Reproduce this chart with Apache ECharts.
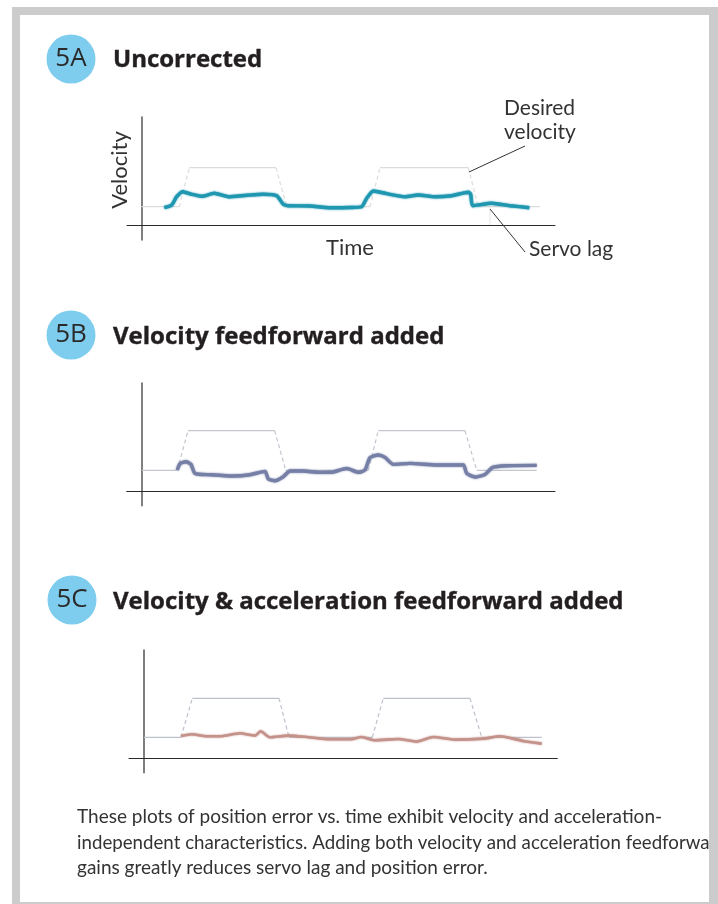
<!DOCTYPE html>
<html>
<head>
<meta charset="utf-8">
<style>
  html, body { margin: 0; padding: 0; background: #fff; }
  #chart { width: 718px; height: 904px; }
</style>
<script src="https://cdn.jsdelivr.net/npm/echarts@6/dist/echarts.min.js"></script>
</head>
<body>
<div id="chart"></div>
<script>
// [time, velocity]
const desiredA = [[0, 18.3], [37.8, 18.3], [47.8, 57.3], [134.5, 57.3], [145.2, 18.3], [228.5, 18.3], [238.5, 57.3], [326.8, 57.3], [336.8, 18.3], [398.5, 18.3]];
const servoA = [[22.8, 17.3], [30.2, 20], [35.2, 28.3], [41.2, 33.3], [50.2, 30.7], [60.2, 28.7], [72.8, 31.7], [86.8, 28.3], [105.2, 29.7], [121.8, 30.7], [135.2, 29.3], [141.8, 20.7], [146.8, 19.3], [168.5, 19], [188.5, 17.3], [208.5, 17.5], [220.2, 18.3], [225.2, 26.7], [231.8, 34], [245.2, 31.3], [263.5, 28.3], [276.8, 30], [293.5, 28.3], [310.2, 29.3], [326.8, 32.7], [329.2, 30.7], [331.2, 19.3], [350.2, 21.7], [368.5, 19.3], [387.8, 17.3]];
const desiredB = [[0, 21.3], [35.3, 21.3], [46, 61], [132.7, 61], [143.7, 21.3], [226.3, 21.3], [236.3, 61], [323, 61], [334.7, 21.3], [394.7, 21.3]];
const servoB = [[35.3, 21.7], [38, 28], [44, 30], [49, 27.3], [53, 18.3], [68, 17], [91.3, 15.7], [108, 17], [123, 20.3], [126.3, 12.7], [133, 11], [141.3, 15], [148, 20.7], [161.3, 20.7], [178, 19.3], [191.3, 19.7], [204.7, 23.3], [216.3, 19.3], [223, 21.7], [228, 34], [236.3, 36.7], [243, 34.3], [251.3, 27.3], [268, 28.3], [294.7, 26.7], [321.3, 26.7], [324.7, 18.3], [333, 14.7], [343, 17.3], [350.7, 24.3], [364.7, 26], [394.7, 26.3]];
const desiredC = [[0, 21], [37, 21], [48.3, 60], [135, 60], [145, 21], [228.3, 21], [239.3, 60], [326, 60], [337.7, 21], [397.7, 21]];
const servoC = [[37, 22.3], [47.7, 24], [62.7, 22], [79.3, 22.3], [96, 25], [111, 22.7], [116.7, 27], [126, 21], [144.3, 22.7], [162.7, 21.3], [186, 19], [206, 19], [217.7, 21.3], [231, 18], [254.3, 19.3], [272.7, 16.7], [289.3, 21.3], [311, 18.7], [339.3, 19.7], [356, 22], [379.3, 17.3], [397.7, 14.7]];

const badges = ['5A', '5B', '5C'];
const headings = ['Uncorrected', 'Velocity feedforward added', 'Velocity & acceleration feedforward added'];
const caption = [
  'These plots of position error vs. time exhibit velocity and acceleration-',
  'independent characteristics. Adding both velocity and acceleration feedforwa',
  'gains greatly reduces servo lag and position error.'
];
const captionSizes = [19, 18.7, 19];

const bodyFont = 'Lato';
const headFont = '"Open Sans"';

const panels = [
  { desired: desiredA, servo: servoA, color: '#1f97b0', flat: '#dcdcdc', lineW: 3.4, left: 127, top: 117, width: 428, height: 123, xMin: -14.5, xMax: 413.5, yMin: -15, yMax: 108, badgeY: 59, badgeX: 71, headY: 60 },
  { desired: desiredB, servo: servoB, color: '#767fa6', flat: '#c4c6d0', lineW: 3.4, left: 126.7, top: 383, width: 428.3, height: 122.7, xMin: -15.3, xMax: 413, yMin: -14, yMax: 108.7, badgeY: 335, badgeX: 71, headY: 337 },
  { desired: desiredC, servo: servoC, color: '#c4928a', flat: '#bcc1cc', lineW: 2.6, left: 129, top: 650, width: 428.3, height: 122.7, xMin: -15, xMax: 413.3, yMin: -14.4, yMax: 108.3, badgeY: 600, badgeX: 72, headY: 602 }
];

// flats solid, ramps dashed: split the trace into two series with gaps
function splitDesired(points) {
  const flats = [];
  const ramps = [];
  for (let i = 1; i < points.length; i++) {
    const target = points[i][1] === points[i - 1][1] ? flats : ramps;
    target.push(points[i - 1], points[i], [points[i][0], null]);
  }
  return { flats, ramps };
}

const grid = [];
const xAxis = [];
const yAxis = [];
const series = [];

panels.forEach((p, i) => {
  grid.push({ left: p.left, top: p.top, width: p.width, height: p.height });
  xAxis.push({
    type: 'value', gridIndex: i, min: p.xMin, max: p.xMax,
    splitLine: { show: false }, axisTick: { show: false }, axisLabel: { show: false },
    axisLine: { onZero: true, lineStyle: { color: '#2b2b2b', width: 1 } },
    name: i === 0 ? 'Time' : '', nameLocation: 'middle', nameGap: -3,
    nameTextStyle: { fontFamily: bodyFont, fontSize: 22, color: '#333', padding: [0, 0, 0, 18] }
  });
  yAxis.push({
    type: 'value', gridIndex: i, min: p.yMin, max: p.yMax,
    splitLine: { show: false }, axisTick: { show: false }, axisLabel: { show: false },
    axisLine: { onZero: true, lineStyle: { color: '#555', width: 1.5 } },
    name: i === 0 ? 'Velocity' : '', nameLocation: 'middle', nameGap: -4,
    nameTextStyle: { fontFamily: bodyFont, fontSize: 22, color: '#333', padding: [0, 0, 0, 17] }
  });
  const parts = splitDesired(p.desired);
  series.push({
    type: 'line', xAxisIndex: i, yAxisIndex: i, data: parts.flats, showSymbol: false, silent: true,
    lineStyle: { color: p.flat, width: 1.2 }
  });
  series.push({
    type: 'line', xAxisIndex: i, yAxisIndex: i, data: parts.ramps, showSymbol: false, silent: true,
    lineStyle: { color: p.flat, width: 1.2, type: [4, 3] }
  });
  series.push({
    type: 'line', xAxisIndex: i, yAxisIndex: i, data: p.servo, showSymbol: false, silent: true, smooth: 0.2,
    lineStyle: { color: p.color, width: p.lineW, shadowBlur: 2, shadowColor: p.color }
  });
});

const graphic = [];
panels.forEach((p, i) => {
  graphic.push({ type: 'circle', shape: { cx: p.badgeX, cy: p.badgeY, r: 24.5 }, style: { fill: '#7fcdee' }, z: 10 });
  graphic.push({
    type: 'text', x: p.badgeX, y: p.badgeY, z: 11,
    style: { text: badges[i], font: '26px "Open Sans"', fill: '#2a2a2a', align: 'center', verticalAlign: 'middle' }
  });
  graphic.push({
    type: 'text', x: 113, y: p.headY, z: 11,
    style: { text: headings[i], font: 'bold 24px ' + headFont, fill: '#231f20', stroke: '#231f20', lineWidth: 0.4, align: 'left', verticalAlign: 'middle' }
  });
});
// callouts on the first panel
graphic.push({ type: 'text', x: 504, y: 108, z: 11, style: { text: 'Desired', font: '21px ' + bodyFont, fill: '#333', verticalAlign: 'middle' } });
graphic.push({ type: 'text', x: 504, y: 132, z: 11, style: { text: 'velocity', font: '21px ' + bodyFont, fill: '#333', verticalAlign: 'middle' } });
graphic.push({ type: 'text', x: 529, y: 249, z: 11, style: { text: 'Servo lag', font: '21px ' + bodyFont, fill: '#333', verticalAlign: 'middle' } });
graphic.push({ type: 'line', shape: { x1: 469, y1: 172, x2: 525, y2: 146 }, style: { stroke: '#333', lineWidth: 1 }, z: 11 });
graphic.push({ type: 'line', shape: { x1: 490, y1: 209, x2: 525, y2: 252 }, style: { stroke: '#333', lineWidth: 1 }, z: 11 });
graphic.push({ type: 'line', shape: { x1: 490, y1: 207, x2: 490, y2: 225 }, style: { stroke: '#e6e6e6', lineWidth: 1 }, z: 1 });

caption.forEach((line, i) => {
  graphic.push({
    type: 'text', x: 77, y: 817 + i * 25.5, z: 11,
    style: { text: line, font: captionSizes[i] + 'px ' + bodyFont, fill: '#333', verticalAlign: 'middle' }
  });
});

// page frame goes over the caption, it cuts the second line
[[12, 7, 706, 8], [12, 7, 8, 897], [709, 7, 9, 897], [12, 902, 706, 2]].forEach(r => {
  graphic.push({ type: 'rect', shape: { x: r[0], y: r[1], width: r[2], height: r[3] }, style: { fill: '#cccccc' }, z: 20 });
});

const chart = echarts.init(document.getElementById('chart'));
chart.setOption({
  animation: false,
  backgroundColor: '#fff',
  grid, xAxis, yAxis, series, graphic
});
</script>
</body>
</html>
